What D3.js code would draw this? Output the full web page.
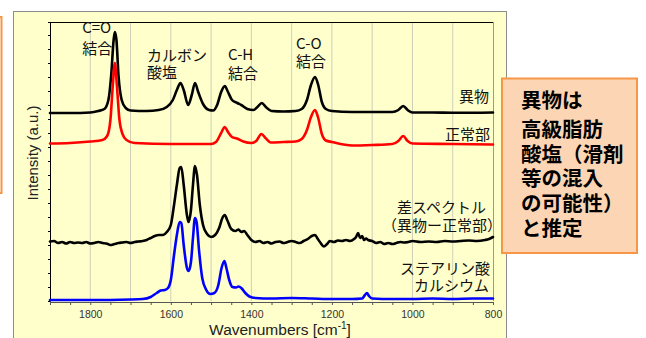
<!DOCTYPE html>
<html><head><meta charset="utf-8">
<script src="https://cdn.jsdelivr.net/npm/d3@7/dist/d3.min.js"></script>
<style>html,body{margin:0;padding:0;background:#fff;overflow:hidden}</style>
</head><body><svg id="c" width="646" height="338"></svg>
<script>
// ---- data (wavenumber cm^-1, intensity a.u.) ----
const foreignWn = [1900,1850,1800,1780,1765,1755,1748,1742,1739,1735,1730,1722,1712,1700,1660,1630,1610,1595,1585,1576,1568,1557,1548,1540,1532,1520,1505,1495,1485,1475,1466,1458,1448,1435,1425,1410,1395,1385,1374,1364,1350,1320,1290,1275,1262,1252,1242,1234,1225,1215,1200,1150,1100,1050,1035,1023,1012,1000,950,900,850,800];
const foreignVal = [188,188,188.5,190,192,201,226,261,269,261,226,201,193,190.5,190,191,194,201,211,218,211,196,206,218,209,197,191,190.5,196,209,215,209,201,198,196,192,191,194,198,194,190,189.5,190,192,201,216,224,216,199,192,190,189,189,189,191,195,191,188.5,188.5,188.3,188.3,188.5];

const normalWn = [1900,1850,1800,1770,1758,1750,1744,1739,1734,1728,1720,1710,1690,1600,1500,1488,1475,1466,1458,1448,1436,1420,1400,1388,1375,1365,1352,1320,1290,1275,1262,1252,1242,1234,1225,1215,1200,1150,1100,1050,1035,1023,1012,1000,900,800];
const normalVal = [157.5,158,159.5,161,165,181,216,238,216,183,167,161,158,157,157,159,168,174,169,164,162.5,159.5,158,160,167,163,158.5,159,159.5,162,171,184,191,183,167,160.5,159,155.5,156,157,160,165,160,157.5,157,156.5];

const diffWn = [1900,1890,1880,1870,1860,1850,1840,1830,1820,1810,1800,1790,1780,1770,1760,1750,1740,1730,1720,1710,1700,1690,1680,1670,1660,1650,1640,1630,1620,1610,1600,1592,1585,1578,1574,1568,1560,1556,1550,1545,1540,1535,1528,1520,1510,1500,1490,1480,1472,1466,1460,1450,1440,1432,1425,1418,1410,1400,1390,1380,1370,1360,1350,1340,1330,1320,1310,1300,1290,1280,1270,1260,1250,1242,1235,1228,1220,1212,1205,1195,1185,1175,1165,1155,1145,1140,1135,1130,1125,1120,1115,1110,1100,1090,1080,1070,1060,1050,1040,1030,1020,1010,1000,980,960,940,920,900,880,860,840,820,810,800];
const diffVal = [59.5,60,58,59,57.5,59,58,58.5,58,59,57.5,58,59,58,57.5,56,57,58,58.5,59,58,59,59.5,60,61,63,65,66,66,69,76,96,116,133,134,116,86,79,91,116,135,126,96,76,67,64,66,73,83,86,81,72,70,71.5,69,70,66,61,59,60,58,59,57.5,59,59.5,58,59,60,59,58,60,62,65,66,62,58,54.5,57,60,59,60.5,60,61,60,62,64,68,63,65,61,62.5,61,60,58,59,57,58,57,58,59,58.5,59,60,59,59.5,59,60,59.5,60,60.5,60,61,62,64];

const stearateWn = [1900,1800,1700,1670,1650,1635,1625,1615,1607,1600,1592,1585,1578,1574,1568,1560,1556,1550,1545,1540,1536,1530,1522,1512,1502,1492,1482,1474,1467,1462,1455,1447,1438,1432,1425,1415,1405,1390,1350,1300,1250,1200,1150,1125,1118,1113,1108,1100,1050,1000,950,900,850,800];
const stearateVal = [1,1,1.5,2,4,8,10.5,11,13,21,46,66,79,78,56,33,30,39,63,83,79,51,23,11,7,8,16,33,40,33,21,14,13.5,14.5,13,8,4.5,3,2.5,3,2.5,2,2,2.5,6,8,5,2.5,2,2,2.5,2,2.5,2.5];

const seriesNames = ["異物","正常部","差スペクトル","ステアリン酸カルシウム"];
const xTicks = [1800,1600,1400,1200,1000,800];
const gridTicks = [1800,1700,1600,1500,1400,1300,1200,1100,1000,900];

const annotations = [
  {lines:["C=O","結合"], wn:1820},
  {lines:["カルボン","酸塩"], wn:1659},
  {lines:["C-H","結合"], wn:1458},
  {lines:["C-O","結合"], wn:1289}
];
const seriesLabels = [
  ["異物"], ["正常部"], ["差スペクトル","（異物ー正常部）"], ["ステアリン酸","カルシウム"]
];
const noteLines = ["異物は","高級脂肪","酸塩（滑剤","等の混入","の可能性）","と推定"];

// ---- drawing ----
const svg = d3.select("#c");
const jp = "'Noto Sans CJK JP', 'Noto Sans', sans-serif";
const lat = "'Liberation Sans', Arial, sans-serif";

// left partial box
svg.append("rect").attr("x",-60).attr("y",17).attr("width",61.5).attr("height",176)
  .attr("fill","#fff").attr("stroke","#F79646").attr("stroke-width",2);

// panel
svg.append("rect").attr("x",13.5).attr("y",11.5).attr("width",493).attr("height",340)
  .attr("fill","#FFFFCC").attr("stroke","#8c8c8c").attr("stroke-width",1);

const L=50, R=493, T=22, B=301;
const x = d3.scaleLinear().domain([1900,800]).range([L,R]);
const y = d3.scaleLinear().domain([0,279]).range([B,T]);

// grid
svg.append("g").selectAll("line").data(gridTicks).join("line")
  .attr("x1",d=>x(d)).attr("x2",d=>x(d)).attr("y1",T).attr("y2",B)
  .attr("stroke","#cfcfb8").attr("stroke-width",1);

// frame
svg.append("line").attr("x1",L).attr("x2",R).attr("y1",T+0.5).attr("y2",T+0.5).attr("stroke","#000").attr("stroke-width",1.2);
svg.append("line").attr("x1",R+0.5).attr("x2",R+0.5).attr("y1",T).attr("y2",B).attr("stroke","#9a9a9a").attr("stroke-width",1);

// left axis with minor ticks
const yTickVals = d3.range(0,280,14);
const yAx = d3.axisLeft(y).tickValues(yTickVals).tickSize(2).tickFormat("");
svg.append("g").attr("transform",`translate(${L},0)`).call(yAx)
  .call(g=>g.selectAll("path,line").attr("stroke","#000"));

// bottom axis
const xAx = d3.axisBottom(x).tickValues(xTicks).tickSize(0).tickPadding(9).tickFormat(d3.format("d"));
const gx = svg.append("g").attr("transform",`translate(0,${B+1})`).call(xAx);
gx.select(".domain").attr("stroke","#555");
gx.selectAll("text").attr("font-family",lat).attr("font-size",10.5).attr("fill","#333");
svg.append("g").attr("transform",`translate(0,${B+1})`)
  .call(d3.axisBottom(x).tickValues(d3.range(1900,799,-50)).tickSize(3).tickFormat(""))
  .call(g=>{g.select(".domain").remove(); g.selectAll("line").attr("stroke","#555");});

// lines
const line = d3.line().x(d=>x(d[0])).y(d=>y(d[1])).curve(d3.curveMonotoneX);
const zip = (a,b)=>a.map((v,i)=>[v,b[i]]);
const series = [
  {d:zip(foreignWn,foreignVal), c:"#000"},
  {d:zip(normalWn,normalVal), c:"#FF0000"},
  {d:zip(stearateWn,stearateVal), c:"#0000FF"},
  {d:zip(diffWn,diffVal), c:"#000"}
];
svg.append("g").selectAll("path").data(series).join("path")
  .attr("d",s=>line(s.d)).attr("fill","none").attr("stroke",s=>s.c)
  .attr("stroke-width",2.6).attr("stroke-linejoin","round").attr("stroke-linecap","round");

// annotations (multi-line text, one element each)
const annBase = [[33,53.5],[61,78],[60,79],[49,67]];
annotations.forEach((a,i)=>{
  const t = svg.append("text").attr("font-family",jp).attr("font-size",15).attr("fill","#111");
  a.lines.forEach((s,j)=>{
    t.append("tspan").attr("x",x(a.wn)).attr("y",annBase[i][j]).text(s);
  });
});

// series labels
const labPos = [[[489,102]],[[490,140]],[[486,213],[502,231]],[[490,274],[489,291]]];
seriesLabels.forEach((ls,i)=>{
  const t = svg.append("text").attr("text-anchor","end").attr("font-family",jp).attr("font-size",15).attr("fill","#111");
  ls.forEach((s,j)=>{
    t.append("tspan").attr("x",labPos[i][j][0]).attr("y",labPos[i][j][1]).text(s);
  });
});

// axis titles
svg.append("text").attr("transform","translate(38,153) rotate(-90)").attr("text-anchor","middle")
  .attr("font-family",lat).attr("font-size",15).attr("fill","#222").text("Intensity (a.u.)");
const xt = svg.append("text").attr("x",280).attr("y",335).attr("text-anchor","middle")
  .attr("font-family",lat).attr("font-size",15.5).attr("fill","#222");
xt.append("tspan").text("Wavenumbers [cm");
xt.append("tspan").attr("dy",-6).attr("font-size",10).text("-1");
xt.append("tspan").attr("dy",6).text("]");

// note box
svg.append("rect").attr("x",502).attr("y",78.5).attr("width",135).attr("height",174.5)
  .attr("fill","#FCD5B4").attr("stroke","#F79646").attr("stroke-width",2);
const noteBase = [108,137,162,186,211,236];
const nt = svg.append("text").attr("font-family",jp).attr("font-weight","bold").attr("font-size",20.5).attr("fill","#000");
noteLines.forEach((s,i)=>{
  nt.append("tspan").attr("x",521).attr("y",noteBase[i]).text(s);
});
</script></body></html>
